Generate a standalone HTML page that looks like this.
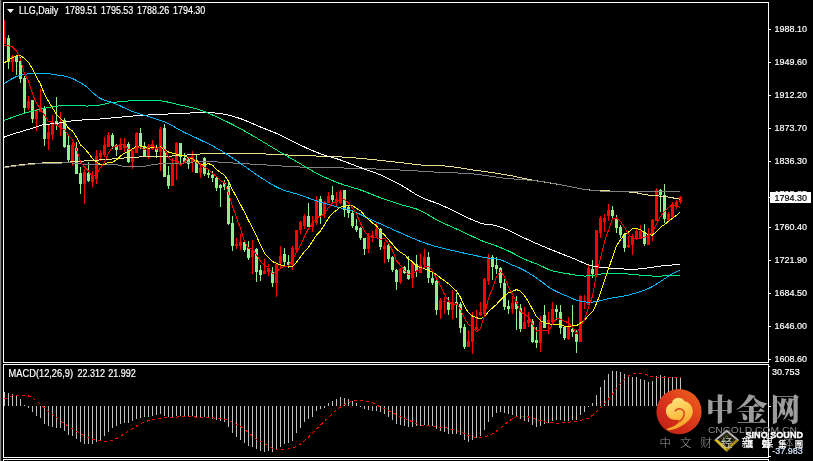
<!DOCTYPE html>
<html lang="zh"><head><meta charset="utf-8"><title>LLG,Daily</title>
<style>html,body{margin:0;padding:0;background:#000;overflow:hidden}svg{display:block}text{font-family:"Liberation Sans","Noto Sans CJK SC",sans-serif}.ax{font-size:9.5px;fill:#fff;stroke:#fff;stroke-width:0.2px;transform:translate(0,-0.4px)}.cj{font-family:"Liberation Serif","Noto Serif CJK SC",serif}</style></head><body>
<svg width="813" height="461" viewBox="0 0 813 461">
<defs><linearGradient id="cg" x1="0.85" y1="0.1" x2="0.15" y2="0.9"><stop offset="0" stop-color="#ea5a1c"/><stop offset="0.55" stop-color="#d8341a"/><stop offset="1" stop-color="#c32218"/></linearGradient><linearGradient id="yg" x1="0.3" y1="0" x2="0.6" y2="1"><stop offset="0" stop-color="#ffe27e"/><stop offset="0.6" stop-color="#fbbd3f"/><stop offset="1" stop-color="#f39a1f"/></linearGradient><clipPath id="mainclip"><rect x="4" y="3" width="764" height="359"/></clipPath></defs>
<rect width="813" height="461" fill="#000"/>
<rect x="0" y="0" width="1" height="461" fill="#808080"/><rect x="1" y="0" width="1" height="461" fill="#1c1c1c"/>
<g fill="none" stroke="#fff" stroke-width="1" shape-rendering="crispEdges">
<rect x="3.5" y="2.5" width="765" height="360"/>
<rect x="3.5" y="364.5" width="765" height="93"/>
<path d="M3.5 462V459.5H768.5V462"/>
</g>
<g clip-path="url(#mainclip)">
<g shape-rendering="crispEdges">
<rect x="4" y="20" width="1" height="24" fill="#ff0000"/><rect x="3" y="37" width="3" height="7" fill="#ff0000"/>
<rect x="8" y="35" width="1" height="34" fill="#90ee90"/><rect x="7" y="38" width="3" height="24" fill="#90ee90"/>
<rect x="12" y="55" width="1" height="17" fill="#ff0000"/><rect x="11" y="56" width="3" height="6" fill="#ff0000"/>
<rect x="16" y="56" width="1" height="19" fill="#90ee90"/><rect x="15" y="56" width="3" height="6" fill="#90ee90"/>
<rect x="20" y="57" width="1" height="26" fill="#90ee90"/><rect x="19" y="61" width="3" height="18" fill="#90ee90"/>
<rect x="24" y="76" width="1" height="37" fill="#90ee90"/><rect x="23" y="78" width="3" height="30" fill="#90ee90"/>
<rect x="28" y="96" width="1" height="14" fill="#ff0000"/><rect x="27" y="101" width="3" height="7" fill="#ff0000"/>
<rect x="32" y="100" width="1" height="23" fill="#90ee90"/><rect x="31" y="100" width="3" height="19" fill="#90ee90"/>
<rect x="36" y="109" width="1" height="22" fill="#ff0000"/><rect x="35" y="110" width="3" height="9" fill="#ff0000"/>
<rect x="40" y="89" width="1" height="23" fill="#ff0000"/><rect x="39" y="107" width="3" height="5" fill="#ff0000"/>
<rect x="44" y="106" width="1" height="40" fill="#90ee90"/><rect x="43" y="108" width="3" height="31" fill="#90ee90"/>
<rect x="48" y="124" width="1" height="26" fill="#ff0000"/><rect x="47" y="132" width="3" height="7" fill="#ff0000"/>
<rect x="52" y="115" width="1" height="25" fill="#ff0000"/><rect x="51" y="122" width="3" height="13" fill="#ff0000"/>
<rect x="56" y="97" width="1" height="33" fill="#90ee90"/><rect x="55" y="121" width="3" height="4" fill="#90ee90"/>
<rect x="60" y="112" width="1" height="24" fill="#ff0000"/><rect x="59" y="122" width="3" height="6" fill="#ff0000"/>
<rect x="64" y="118" width="1" height="30" fill="#90ee90"/><rect x="63" y="120" width="3" height="27" fill="#90ee90"/>
<rect x="68" y="136" width="1" height="26" fill="#90ee90"/><rect x="67" y="145" width="3" height="15" fill="#90ee90"/>
<rect x="72" y="142" width="1" height="24" fill="#ff0000"/><rect x="71" y="145" width="3" height="16" fill="#ff0000"/>
<rect x="76" y="142" width="1" height="32" fill="#90ee90"/><rect x="75" y="148" width="3" height="26" fill="#90ee90"/>
<rect x="80" y="167" width="1" height="27" fill="#90ee90"/><rect x="79" y="173" width="3" height="11" fill="#90ee90"/>
<rect x="84" y="169" width="1" height="35" fill="#ff0000"/><rect x="83" y="172" width="3" height="12" fill="#ff0000"/>
<rect x="88" y="162" width="1" height="20" fill="#90ee90"/><rect x="87" y="173" width="3" height="8" fill="#90ee90"/>
<rect x="92" y="171" width="1" height="16" fill="#ff0000"/><rect x="91" y="176" width="3" height="6" fill="#ff0000"/>
<rect x="96" y="150" width="1" height="34" fill="#ff0000"/><rect x="95" y="156" width="3" height="23" fill="#ff0000"/>
<rect x="100" y="150" width="1" height="11" fill="#ff0000"/><rect x="99" y="153" width="3" height="4" fill="#ff0000"/>
<rect x="104" y="137" width="1" height="20" fill="#ff0000"/><rect x="103" y="145" width="3" height="10" fill="#ff0000"/>
<rect x="108" y="132" width="1" height="15" fill="#ff0000"/><rect x="107" y="135" width="3" height="12" fill="#ff0000"/>
<rect x="112" y="133" width="1" height="16" fill="#90ee90"/><rect x="111" y="135" width="3" height="11" fill="#90ee90"/>
<rect x="116" y="144" width="1" height="12" fill="#90ee90"/><rect x="115" y="145" width="3" height="5" fill="#90ee90"/>
<rect x="120" y="138" width="1" height="12" fill="#ff0000"/><rect x="119" y="144" width="3" height="6" fill="#ff0000"/>
<rect x="124" y="138" width="1" height="14" fill="#ff0000"/><rect x="123" y="144" width="3" height="4" fill="#ff0000"/>
<rect x="128" y="142" width="1" height="21" fill="#90ee90"/><rect x="127" y="144" width="3" height="18" fill="#90ee90"/>
<rect x="132" y="150" width="1" height="19" fill="#ff0000"/><rect x="131" y="151" width="3" height="11" fill="#ff0000"/>
<rect x="136" y="132" width="1" height="21" fill="#ff0000"/><rect x="135" y="133" width="3" height="20" fill="#ff0000"/>
<rect x="140" y="128" width="1" height="21" fill="#90ee90"/><rect x="139" y="133" width="3" height="13" fill="#90ee90"/>
<rect x="144" y="142" width="1" height="15" fill="#90ee90"/><rect x="143" y="146" width="3" height="11" fill="#90ee90"/>
<rect x="148" y="144" width="1" height="15" fill="#ff0000"/><rect x="147" y="146" width="3" height="11" fill="#ff0000"/>
<rect x="152" y="140" width="1" height="10" fill="#ff0000"/><rect x="151" y="144" width="3" height="5" fill="#ff0000"/>
<rect x="156" y="145" width="1" height="13" fill="#90ee90"/><rect x="155" y="148" width="3" height="4" fill="#90ee90"/>
<rect x="160" y="127" width="1" height="44" fill="#ff0000"/><rect x="159" y="129" width="3" height="23" fill="#ff0000"/>
<rect x="164" y="124" width="1" height="53" fill="#90ee90"/><rect x="163" y="128" width="3" height="49" fill="#90ee90"/>
<rect x="168" y="166" width="1" height="23" fill="#90ee90"/><rect x="167" y="175" width="3" height="11" fill="#90ee90"/>
<rect x="172" y="158" width="1" height="28" fill="#ff0000"/><rect x="171" y="163" width="3" height="23" fill="#ff0000"/>
<rect x="176" y="142" width="1" height="38" fill="#ff0000"/><rect x="175" y="143" width="3" height="21" fill="#ff0000"/>
<rect x="180" y="143" width="1" height="21" fill="#90ee90"/><rect x="179" y="143" width="3" height="14" fill="#90ee90"/>
<rect x="184" y="153" width="1" height="9" fill="#90ee90"/><rect x="183" y="158" width="3" height="4" fill="#90ee90"/>
<rect x="188" y="157" width="1" height="12" fill="#90ee90"/><rect x="187" y="159" width="3" height="5" fill="#90ee90"/>
<rect x="192" y="151" width="1" height="21" fill="#ff0000"/><rect x="191" y="157" width="3" height="5" fill="#ff0000"/>
<rect x="196" y="154" width="1" height="19" fill="#90ee90"/><rect x="195" y="160" width="3" height="13" fill="#90ee90"/>
<rect x="200" y="163" width="1" height="15" fill="#ff0000"/><rect x="199" y="168" width="3" height="5" fill="#ff0000"/>
<rect x="204" y="157" width="1" height="19" fill="#90ee90"/><rect x="203" y="158" width="3" height="16" fill="#90ee90"/>
<rect x="208" y="169" width="1" height="9" fill="#90ee90"/><rect x="207" y="173" width="3" height="2" fill="#90ee90"/>
<rect x="212" y="171" width="1" height="11" fill="#90ee90"/><rect x="211" y="175" width="3" height="3" fill="#90ee90"/>
<rect x="216" y="176" width="1" height="15" fill="#90ee90"/><rect x="215" y="178" width="3" height="10" fill="#90ee90"/>
<rect x="220" y="184" width="1" height="23" fill="#90ee90"/><rect x="219" y="185" width="3" height="3" fill="#90ee90"/>
<rect x="224" y="180" width="1" height="10" fill="#90ee90"/><rect x="223" y="183" width="3" height="4" fill="#90ee90"/>
<rect x="228" y="182" width="1" height="43" fill="#90ee90"/><rect x="227" y="186" width="3" height="38" fill="#90ee90"/>
<rect x="232" y="216" width="1" height="35" fill="#90ee90"/><rect x="231" y="223" width="3" height="23" fill="#90ee90"/>
<rect x="236" y="238" width="1" height="11" fill="#ff0000"/><rect x="235" y="244" width="3" height="2" fill="#ff0000"/>
<rect x="240" y="234" width="1" height="16" fill="#ff0000"/><rect x="239" y="242" width="3" height="4" fill="#ff0000"/>
<rect x="244" y="242" width="1" height="10" fill="#90ee90"/><rect x="243" y="242" width="3" height="8" fill="#90ee90"/>
<rect x="248" y="241" width="1" height="19" fill="#90ee90"/><rect x="247" y="248" width="3" height="10" fill="#90ee90"/>
<rect x="252" y="240" width="1" height="34" fill="#ff0000"/><rect x="251" y="250" width="3" height="7" fill="#ff0000"/>
<rect x="256" y="248" width="1" height="34" fill="#90ee90"/><rect x="255" y="249" width="3" height="23" fill="#90ee90"/>
<rect x="260" y="265" width="1" height="16" fill="#90ee90"/><rect x="259" y="270" width="3" height="5" fill="#90ee90"/>
<rect x="264" y="259" width="1" height="15" fill="#ff0000"/><rect x="263" y="271" width="3" height="3" fill="#ff0000"/>
<rect x="268" y="264" width="1" height="12" fill="#ff0000"/><rect x="267" y="268" width="3" height="4" fill="#ff0000"/>
<rect x="272" y="267" width="1" height="20" fill="#90ee90"/><rect x="271" y="272" width="3" height="11" fill="#90ee90"/>
<rect x="276" y="264" width="1" height="33" fill="#ff0000"/><rect x="275" y="264" width="3" height="19" fill="#ff0000"/>
<rect x="280" y="246" width="1" height="22" fill="#ff0000"/><rect x="279" y="256" width="3" height="7" fill="#ff0000"/>
<rect x="284" y="248" width="1" height="17" fill="#90ee90"/><rect x="283" y="254" width="3" height="8" fill="#90ee90"/>
<rect x="288" y="255" width="1" height="13" fill="#90ee90"/><rect x="287" y="262" width="3" height="3" fill="#90ee90"/>
<rect x="292" y="246" width="1" height="24" fill="#ff0000"/><rect x="291" y="248" width="3" height="17" fill="#ff0000"/>
<rect x="296" y="230" width="1" height="21" fill="#ff0000"/><rect x="295" y="230" width="3" height="20" fill="#ff0000"/>
<rect x="300" y="221" width="1" height="13" fill="#ff0000"/><rect x="299" y="222" width="3" height="8" fill="#ff0000"/>
<rect x="304" y="214" width="1" height="15" fill="#ff0000"/><rect x="303" y="216" width="3" height="10" fill="#ff0000"/>
<rect x="308" y="203" width="1" height="24" fill="#90ee90"/><rect x="307" y="216" width="3" height="11" fill="#90ee90"/>
<rect x="312" y="216" width="1" height="16" fill="#ff0000"/><rect x="311" y="223" width="3" height="4" fill="#ff0000"/>
<rect x="316" y="196" width="1" height="29" fill="#ff0000"/><rect x="315" y="200" width="3" height="23" fill="#ff0000"/>
<rect x="320" y="196" width="1" height="28" fill="#90ee90"/><rect x="319" y="199" width="3" height="17" fill="#90ee90"/>
<rect x="324" y="201" width="1" height="17" fill="#ff0000"/><rect x="323" y="202" width="3" height="12" fill="#ff0000"/>
<rect x="328" y="192" width="1" height="11" fill="#ff0000"/><rect x="327" y="196" width="3" height="7" fill="#ff0000"/>
<rect x="332" y="186" width="1" height="16" fill="#90ee90"/><rect x="331" y="195" width="3" height="5" fill="#90ee90"/>
<rect x="336" y="192" width="1" height="15" fill="#ff0000"/><rect x="335" y="199" width="3" height="3" fill="#ff0000"/>
<rect x="340" y="190" width="1" height="14" fill="#ff0000"/><rect x="339" y="192" width="3" height="11" fill="#ff0000"/>
<rect x="344" y="190" width="1" height="27" fill="#90ee90"/><rect x="343" y="190" width="3" height="20" fill="#90ee90"/>
<rect x="348" y="206" width="1" height="12" fill="#90ee90"/><rect x="347" y="207" width="3" height="6" fill="#90ee90"/>
<rect x="352" y="211" width="1" height="17" fill="#90ee90"/><rect x="351" y="213" width="3" height="13" fill="#90ee90"/>
<rect x="356" y="219" width="1" height="13" fill="#90ee90"/><rect x="355" y="226" width="3" height="4" fill="#90ee90"/>
<rect x="360" y="227" width="1" height="13" fill="#90ee90"/><rect x="359" y="228" width="3" height="10" fill="#90ee90"/>
<rect x="364" y="238" width="1" height="17" fill="#90ee90"/><rect x="363" y="238" width="3" height="11" fill="#90ee90"/>
<rect x="368" y="233" width="1" height="20" fill="#ff0000"/><rect x="367" y="237" width="3" height="12" fill="#ff0000"/>
<rect x="372" y="231" width="1" height="11" fill="#ff0000"/><rect x="371" y="235" width="3" height="3" fill="#ff0000"/>
<rect x="376" y="223" width="1" height="15" fill="#ff0000"/><rect x="375" y="229" width="3" height="7" fill="#ff0000"/>
<rect x="380" y="228" width="1" height="22" fill="#90ee90"/><rect x="379" y="229" width="3" height="18" fill="#90ee90"/>
<rect x="384" y="242" width="1" height="21" fill="#ff0000"/><rect x="383" y="246" width="3" height="3" fill="#ff0000"/>
<rect x="388" y="244" width="1" height="18" fill="#90ee90"/><rect x="387" y="245" width="3" height="14" fill="#90ee90"/>
<rect x="392" y="256" width="1" height="16" fill="#90ee90"/><rect x="391" y="257" width="3" height="13" fill="#90ee90"/>
<rect x="396" y="269" width="1" height="21" fill="#90ee90"/><rect x="395" y="270" width="3" height="12" fill="#90ee90"/>
<rect x="400" y="268" width="1" height="16" fill="#ff0000"/><rect x="399" y="269" width="3" height="13" fill="#ff0000"/>
<rect x="404" y="266" width="1" height="8" fill="#90ee90"/><rect x="403" y="267" width="3" height="6" fill="#90ee90"/>
<rect x="408" y="256" width="1" height="24" fill="#90ee90"/><rect x="407" y="270" width="3" height="9" fill="#90ee90"/>
<rect x="412" y="262" width="1" height="26" fill="#ff0000"/><rect x="411" y="263" width="3" height="15" fill="#ff0000"/>
<rect x="416" y="255" width="1" height="22" fill="#90ee90"/><rect x="415" y="264" width="3" height="7" fill="#90ee90"/>
<rect x="420" y="254" width="1" height="19" fill="#ff0000"/><rect x="419" y="265" width="3" height="8" fill="#ff0000"/>
<rect x="424" y="249" width="1" height="19" fill="#ff0000"/><rect x="423" y="257" width="3" height="8" fill="#ff0000"/>
<rect x="428" y="252" width="1" height="31" fill="#90ee90"/><rect x="427" y="257" width="3" height="21" fill="#90ee90"/>
<rect x="432" y="273" width="1" height="12" fill="#90ee90"/><rect x="431" y="278" width="3" height="5" fill="#90ee90"/>
<rect x="436" y="280" width="1" height="35" fill="#90ee90"/><rect x="435" y="281" width="3" height="29" fill="#90ee90"/>
<rect x="440" y="298" width="1" height="21" fill="#ff0000"/><rect x="439" y="300" width="3" height="10" fill="#ff0000"/>
<rect x="444" y="297" width="1" height="17" fill="#ff0000"/><rect x="443" y="301" width="3" height="1" fill="#ff0000"/>
<rect x="448" y="297" width="1" height="18" fill="#90ee90"/><rect x="447" y="302" width="3" height="8" fill="#90ee90"/>
<rect x="452" y="290" width="1" height="29" fill="#ff0000"/><rect x="451" y="302" width="3" height="8" fill="#ff0000"/>
<rect x="456" y="293" width="1" height="25" fill="#90ee90"/><rect x="455" y="302" width="3" height="2" fill="#90ee90"/>
<rect x="460" y="302" width="1" height="31" fill="#90ee90"/><rect x="459" y="304" width="3" height="24" fill="#90ee90"/>
<rect x="464" y="324" width="1" height="25" fill="#90ee90"/><rect x="463" y="327" width="3" height="20" fill="#90ee90"/>
<rect x="468" y="330" width="1" height="17" fill="#ff0000"/><rect x="467" y="341" width="3" height="6" fill="#ff0000"/>
<rect x="472" y="312" width="1" height="42" fill="#ff0000"/><rect x="471" y="316" width="3" height="26" fill="#ff0000"/>
<rect x="476" y="310" width="1" height="20" fill="#ff0000"/><rect x="475" y="327" width="3" height="2" fill="#ff0000"/>
<rect x="480" y="302" width="1" height="14" fill="#ff0000"/><rect x="479" y="312" width="3" height="3" fill="#ff0000"/>
<rect x="484" y="278" width="1" height="36" fill="#ff0000"/><rect x="483" y="279" width="3" height="35" fill="#ff0000"/>
<rect x="488" y="254" width="1" height="31" fill="#ff0000"/><rect x="487" y="257" width="3" height="24" fill="#ff0000"/>
<rect x="492" y="255" width="1" height="25" fill="#90ee90"/><rect x="491" y="257" width="3" height="10" fill="#90ee90"/>
<rect x="496" y="257" width="1" height="17" fill="#90ee90"/><rect x="495" y="265" width="3" height="4" fill="#90ee90"/>
<rect x="500" y="267" width="1" height="21" fill="#90ee90"/><rect x="499" y="268" width="3" height="15" fill="#90ee90"/>
<rect x="504" y="279" width="1" height="31" fill="#90ee90"/><rect x="503" y="283" width="3" height="24" fill="#90ee90"/>
<rect x="508" y="300" width="1" height="14" fill="#90ee90"/><rect x="507" y="306" width="3" height="3" fill="#90ee90"/>
<rect x="512" y="296" width="1" height="18" fill="#ff0000"/><rect x="511" y="303" width="3" height="6" fill="#ff0000"/>
<rect x="516" y="296" width="1" height="34" fill="#90ee90"/><rect x="515" y="302" width="3" height="7" fill="#90ee90"/>
<rect x="520" y="304" width="1" height="28" fill="#90ee90"/><rect x="519" y="308" width="3" height="21" fill="#90ee90"/>
<rect x="524" y="307" width="1" height="22" fill="#ff0000"/><rect x="523" y="322" width="3" height="7" fill="#ff0000"/>
<rect x="528" y="312" width="1" height="15" fill="#ff0000"/><rect x="527" y="320" width="3" height="3" fill="#ff0000"/>
<rect x="532" y="319" width="1" height="24" fill="#90ee90"/><rect x="531" y="321" width="3" height="21" fill="#90ee90"/>
<rect x="536" y="327" width="1" height="21" fill="#90ee90"/><rect x="535" y="340" width="3" height="3" fill="#90ee90"/>
<rect x="540" y="316" width="1" height="36" fill="#ff0000"/><rect x="539" y="322" width="3" height="21" fill="#ff0000"/>
<rect x="544" y="305" width="1" height="23" fill="#90ee90"/><rect x="543" y="315" width="3" height="13" fill="#90ee90"/>
<rect x="548" y="312" width="1" height="22" fill="#ff0000"/><rect x="547" y="320" width="3" height="4" fill="#ff0000"/>
<rect x="552" y="302" width="1" height="21" fill="#ff0000"/><rect x="551" y="309" width="3" height="13" fill="#ff0000"/>
<rect x="556" y="305" width="1" height="15" fill="#90ee90"/><rect x="555" y="309" width="3" height="3" fill="#90ee90"/>
<rect x="560" y="305" width="1" height="29" fill="#90ee90"/><rect x="559" y="312" width="3" height="16" fill="#90ee90"/>
<rect x="564" y="326" width="1" height="14" fill="#90ee90"/><rect x="563" y="327" width="3" height="11" fill="#90ee90"/>
<rect x="568" y="317" width="1" height="23" fill="#ff0000"/><rect x="567" y="327" width="3" height="12" fill="#ff0000"/>
<rect x="572" y="305" width="1" height="32" fill="#90ee90"/><rect x="571" y="329" width="3" height="3" fill="#90ee90"/>
<rect x="576" y="330" width="1" height="23" fill="#90ee90"/><rect x="575" y="334" width="3" height="8" fill="#90ee90"/>
<rect x="580" y="295" width="1" height="47" fill="#ff0000"/><rect x="579" y="296" width="3" height="46" fill="#ff0000"/>
<rect x="584" y="295" width="1" height="14" fill="#ff0000"/><rect x="583" y="301" width="3" height="1" fill="#ff0000"/>
<rect x="588" y="265" width="1" height="40" fill="#ff0000"/><rect x="587" y="268" width="3" height="37" fill="#ff0000"/>
<rect x="592" y="260" width="1" height="18" fill="#90ee90"/><rect x="591" y="269" width="3" height="5" fill="#90ee90"/>
<rect x="596" y="230" width="1" height="46" fill="#ff0000"/><rect x="595" y="230" width="3" height="44" fill="#ff0000"/>
<rect x="600" y="216" width="1" height="22" fill="#ff0000"/><rect x="599" y="218" width="3" height="15" fill="#ff0000"/>
<rect x="604" y="214" width="1" height="18" fill="#ff0000"/><rect x="603" y="218" width="3" height="4" fill="#ff0000"/>
<rect x="608" y="204" width="1" height="17" fill="#ff0000"/><rect x="607" y="210" width="3" height="6" fill="#ff0000"/>
<rect x="612" y="206" width="1" height="13" fill="#90ee90"/><rect x="611" y="210" width="3" height="6" fill="#90ee90"/>
<rect x="616" y="215" width="1" height="18" fill="#90ee90"/><rect x="615" y="219" width="3" height="9" fill="#90ee90"/>
<rect x="620" y="225" width="1" height="13" fill="#90ee90"/><rect x="619" y="227" width="3" height="8" fill="#90ee90"/>
<rect x="624" y="233" width="1" height="19" fill="#90ee90"/><rect x="623" y="234" width="3" height="14" fill="#90ee90"/>
<rect x="628" y="236" width="1" height="12" fill="#ff0000"/><rect x="627" y="245" width="3" height="2" fill="#ff0000"/>
<rect x="632" y="234" width="1" height="21" fill="#ff0000"/><rect x="631" y="236" width="3" height="9" fill="#ff0000"/>
<rect x="636" y="228" width="1" height="12" fill="#ff0000"/><rect x="635" y="231" width="3" height="7" fill="#ff0000"/>
<rect x="640" y="225" width="1" height="14" fill="#ff0000"/><rect x="639" y="231" width="3" height="7" fill="#ff0000"/>
<rect x="644" y="224" width="1" height="22" fill="#90ee90"/><rect x="643" y="232" width="3" height="12" fill="#90ee90"/>
<rect x="648" y="228" width="1" height="17" fill="#ff0000"/><rect x="647" y="234" width="3" height="11" fill="#ff0000"/>
<rect x="652" y="219" width="1" height="22" fill="#ff0000"/><rect x="651" y="220" width="3" height="15" fill="#ff0000"/>
<rect x="656" y="188" width="1" height="33" fill="#ff0000"/><rect x="655" y="190" width="3" height="31" fill="#ff0000"/>
<rect x="660" y="189" width="1" height="23" fill="#90ee90"/><rect x="659" y="190" width="3" height="5" fill="#90ee90"/>
<rect x="664" y="184" width="1" height="39" fill="#90ee90"/><rect x="663" y="195" width="3" height="24" fill="#90ee90"/>
<rect x="668" y="212" width="1" height="9" fill="#ff0000"/><rect x="667" y="214" width="3" height="6" fill="#ff0000"/>
<rect x="672" y="202" width="1" height="17" fill="#ff0000"/><rect x="671" y="204" width="3" height="13" fill="#ff0000"/>
<rect x="676" y="200" width="1" height="9" fill="#ff0000"/><rect x="675" y="202" width="3" height="4" fill="#ff0000"/>
<rect x="680" y="196" width="1" height="8" fill="#ff0000"/><rect x="679" y="197" width="3" height="5" fill="#ff0000"/>
</g>
<polyline points="4.0,167.2 6.0,166.9 8.0,166.5 10.0,166.2 12.0,165.9 14.0,165.6 16.0,165.4 18.0,165.1 20.0,164.9 22.0,164.7 24.0,164.5 26.0,164.2 28.0,164.0 30.0,163.8 32.0,163.7 34.0,163.5 36.0,163.3 38.0,163.2 40.0,163.1 42.0,163.0 44.0,162.9 46.0,162.9 48.0,162.8 50.0,162.8 52.0,162.7 54.0,162.7 56.0,162.7 58.0,162.6 60.0,162.5 62.0,162.4 64.0,162.3 66.0,162.2 68.0,162.1 70.0,162.0 72.0,161.8 74.0,161.7 76.0,161.6 78.0,161.5 80.0,161.3 82.0,161.2 84.0,161.0 86.0,160.9 88.0,160.8 90.0,160.6 92.0,160.5 94.0,160.4 96.0,160.2 98.0,160.1 100.0,159.9 102.0,159.8 104.0,159.6 106.0,159.5 108.0,159.3 110.0,159.2 112.0,159.0 114.0,158.8 116.0,158.7 118.0,158.5 120.0,158.3 122.0,158.2 124.0,158.0 126.0,157.9 128.0,157.7 130.0,157.6 132.0,157.4 134.0,157.3 136.0,157.2 138.0,157.1 140.0,156.9 142.0,156.9 144.0,156.8 146.0,156.7 148.0,156.6 150.0,156.6 152.0,156.5 154.0,156.5 156.0,156.4 158.0,156.4 160.0,156.3 162.0,156.3 164.0,156.2 166.0,156.2 168.0,156.1 170.0,156.1 172.0,156.0 174.0,155.9 176.0,155.8 178.0,155.7 180.0,155.6 182.0,155.4 184.0,155.3 186.0,155.1 188.0,154.9 190.0,154.7 192.0,154.6 194.0,154.4 196.0,154.2 198.0,154.1 200.0,154.0 202.0,153.9 204.0,153.8 206.0,153.8 208.0,153.7 210.0,153.7 212.0,153.7 214.0,153.6 216.0,153.6 218.0,153.6 220.0,153.6 222.0,153.6 224.0,153.6 226.0,153.6 228.0,153.6 230.0,153.6 232.0,153.6 234.0,153.6 236.0,153.6 238.0,153.6 240.0,153.6 242.0,153.6 244.0,153.6 246.0,153.6 248.0,153.7 250.0,153.7 252.0,153.7 254.0,153.7 256.0,153.7 258.0,153.8 260.0,153.8 262.0,153.9 264.0,153.9 266.0,154.0 268.0,154.0 270.0,154.1 272.0,154.2 274.0,154.3 276.0,154.4 278.0,154.5 280.0,154.6 282.0,154.7 284.0,154.8 286.0,154.9 288.0,155.0 290.0,155.1 292.0,155.2 294.0,155.3 296.0,155.4 298.0,155.5 300.0,155.6 302.0,155.7 304.0,155.7 306.0,155.8 308.0,155.8 310.0,155.9 312.0,155.9 314.0,155.9 316.0,156.0 318.0,156.0 320.0,156.0 322.0,156.1 324.0,156.1 326.0,156.2 328.0,156.3 330.0,156.3 332.0,156.4 334.0,156.5 336.0,156.6 338.0,156.7 340.0,156.8 342.0,157.0 344.0,157.1 346.0,157.2 348.0,157.4 350.0,157.5 352.0,157.7 354.0,157.9 356.0,158.0 358.0,158.2 360.0,158.4 362.0,158.5 364.0,158.7 366.0,158.9 368.0,159.1 370.0,159.3 372.0,159.5 374.0,159.7 376.0,159.9 378.0,160.1 380.0,160.3 382.0,160.5 384.0,160.8 386.0,161.0 388.0,161.2 390.0,161.4 392.0,161.7 394.0,161.9 396.0,162.1 398.0,162.3 400.0,162.5 402.0,162.7 404.0,163.0 406.0,163.2 408.0,163.5 410.0,163.7 412.0,164.0 414.0,164.2 416.0,164.5 418.0,164.7 420.0,164.9 422.0,165.2 424.0,165.4 426.0,165.5 428.0,165.7 430.0,165.8 432.0,165.9 434.0,166.0 436.0,165.9 438.0,165.8 440.0,165.7 442.0,165.8 444.0,165.9 446.0,166.1 448.0,166.3 450.0,166.5 452.0,166.8 454.0,167.0 456.0,167.3 458.0,167.6 460.0,167.9 462.0,168.2 464.0,168.6 466.0,168.9 468.0,169.2 470.0,169.5 472.0,169.8 474.0,170.1 476.0,170.3 478.0,170.6 480.0,170.9 482.0,171.2 484.0,171.5 486.0,171.7 488.0,172.0 490.0,172.3 492.0,172.6 494.0,172.9 496.0,173.2 498.0,173.5 500.0,173.8 502.0,174.2 504.0,174.5 506.0,174.8 508.0,175.2 510.0,175.5 512.0,175.9 514.0,176.3 516.0,176.7 518.0,177.2 520.0,177.6 522.0,178.0 524.0,178.4 526.0,178.8 528.0,179.2 530.0,179.6 532.0,180.0 534.0,180.3 536.0,180.7 538.0,181.0 540.0,181.3 542.0,181.7 544.0,182.0 546.0,182.3 548.0,182.7 550.0,183.0 552.0,183.3 554.0,183.6 556.0,184.0 558.0,184.3 560.0,184.6 562.0,185.0 564.0,185.4 566.0,185.8 568.0,186.2 570.0,186.6 572.0,187.1 574.0,187.5 576.0,187.9 578.0,188.3 580.0,188.7 582.0,189.0 584.0,189.3 586.0,189.6 588.0,189.8 590.0,190.0 592.0,190.2 594.0,190.4 596.0,190.5 598.0,190.6 600.0,190.7 602.0,190.8 604.0,190.8 606.0,190.9 608.0,190.9 610.0,191.0 612.0,191.1 614.0,191.2 616.0,191.3 618.0,191.4 620.0,191.5 622.0,191.6 624.0,191.7 626.0,191.8 628.0,191.9 630.0,192.1 632.0,192.2 634.0,192.5 636.0,192.7 638.0,193.1 640.0,193.6 642.0,194.0 644.0,194.4 646.0,194.8 648.0,195.0 650.0,195.3 652.0,195.4 654.0,195.6 656.0,195.8 658.0,195.9 660.0,196.1 662.0,196.3 664.0,196.5 666.0,196.7 668.0,197.0 670.0,197.4 672.0,197.7 674.0,198.1 676.0,198.5 678.0,198.9 680.0,199.3" fill="none" stroke="#ecdf90" stroke-width="1" stroke-linejoin="round" shape-rendering="crispEdges" />
<polyline points="4.0,167.8 6.0,167.5 8.0,167.1 10.0,166.8 12.0,166.5 14.0,166.2 16.0,166.0 18.0,165.7 20.0,165.5 22.0,165.3 24.0,165.1 26.0,164.8 28.0,164.6 30.0,164.4 32.0,164.3 34.0,164.1 36.0,163.9 38.0,163.8 40.0,163.7 42.0,163.6 44.0,163.5 46.0,163.4 48.0,163.3 50.0,163.2 52.0,163.2 54.0,163.1 56.0,163.1 58.0,163.0 60.0,163.0 62.0,163.0 64.0,162.9 66.0,162.9 68.0,162.9 70.0,162.9 72.0,163.0 74.0,163.0 76.0,163.1 78.0,163.3 80.0,163.6 82.0,164.0 84.0,164.4 86.0,164.6 88.0,164.7 90.0,164.8 92.0,164.8 94.0,164.8 96.0,164.8 98.0,164.7 100.0,164.7 102.0,164.6 104.0,164.5 106.0,164.5 108.0,164.5 110.0,164.5 112.0,164.5 114.0,164.6 116.0,164.8 118.0,165.0 120.0,165.4 122.0,166.0 124.0,166.4 126.0,166.6 128.0,166.7 130.0,166.8 132.0,166.9 134.0,166.8 136.0,166.8 138.0,166.7 140.0,166.6 142.0,166.5 144.0,166.3 146.0,166.0 148.0,165.7 150.0,165.3 152.0,164.9 154.0,164.5 156.0,164.2 158.0,164.0 160.0,163.8 162.0,163.8 164.0,163.7 166.0,163.7 168.0,163.7 170.0,163.7 172.0,163.7 174.0,163.6 176.0,163.6 178.0,163.5 180.0,163.4 182.0,163.2 184.0,163.0 186.0,162.8 188.0,162.5 190.0,162.3 192.0,162.1 194.0,161.9 196.0,161.7 198.0,161.6 200.0,161.5 202.0,161.5 204.0,161.5 206.0,161.5 208.0,161.5 210.0,161.6 212.0,161.7 214.0,161.8 216.0,161.9 218.0,162.0 220.0,162.2 222.0,162.3 224.0,162.4 226.0,162.6 228.0,162.7 230.0,162.8 232.0,162.9 234.0,163.1 236.0,163.2 238.0,163.3 240.0,163.4 242.0,163.5 244.0,163.6 246.0,163.7 248.0,163.8 250.0,164.0 252.0,164.1 254.0,164.2 256.0,164.3 258.0,164.5 260.0,164.6 262.0,164.7 264.0,164.8 266.0,164.9 268.0,165.1 270.0,165.2 272.0,165.3 274.0,165.4 276.0,165.6 278.0,165.7 280.0,165.8 282.0,166.0 284.0,166.1 286.0,166.2 288.0,166.4 290.0,166.5 292.0,166.6 294.0,166.7 296.0,166.8 298.0,166.9 300.0,167.0 302.0,167.1 304.0,167.1 306.0,167.2 308.0,167.3 310.0,167.3 312.0,167.3 314.0,167.4 316.0,167.4 318.0,167.4 320.0,167.5 322.0,167.5 324.0,167.5 326.0,167.5 328.0,167.6 330.0,167.6 332.0,167.7 334.0,167.7 336.0,167.8 338.0,167.8 340.0,167.9 342.0,167.9 344.0,168.0 346.0,168.0 348.0,168.1 350.0,168.1 352.0,168.2 354.0,168.3 356.0,168.3 358.0,168.4 360.0,168.5 362.0,168.5 364.0,168.6 366.0,168.7 368.0,168.7 370.0,168.8 372.0,168.9 374.0,168.9 376.0,169.0 378.0,169.1 380.0,169.1 382.0,169.2 384.0,169.3 386.0,169.4 388.0,169.4 390.0,169.5 392.0,169.6 394.0,169.7 396.0,169.8 398.0,169.9 400.0,170.0 402.0,170.1 404.0,170.2 406.0,170.3 408.0,170.4 410.0,170.5 412.0,170.6 414.0,170.8 416.0,170.9 418.0,171.0 420.0,171.1 422.0,171.3 424.0,171.4 426.0,171.5 428.0,171.6 430.0,171.8 432.0,171.9 434.0,172.0 436.0,172.1 438.0,172.2 440.0,172.3 442.0,172.4 444.0,172.5 446.0,172.5 448.0,172.6 450.0,172.7 452.0,172.8 454.0,172.8 456.0,172.9 458.0,173.0 460.0,173.1 462.0,173.2 464.0,173.3 466.0,173.4 468.0,173.6 470.0,173.7 472.0,173.9 474.0,174.0 476.0,174.2 478.0,174.5 480.0,174.7 482.0,175.0 484.0,175.2 486.0,175.5 488.0,175.8 490.0,176.1 492.0,176.4 494.0,176.7 496.0,177.0 498.0,177.3 500.0,177.5 502.0,177.8 504.0,178.1 506.0,178.3 508.0,178.5 510.0,178.7 512.0,178.9 514.0,179.0 516.0,179.2 518.0,179.3 520.0,179.5 522.0,179.6 524.0,179.8 526.0,179.9 528.0,180.1 530.0,180.3 532.0,180.5 534.0,180.7 536.0,180.9 538.0,181.1 540.0,181.4 542.0,181.6 544.0,181.9 546.0,182.2 548.0,182.6 550.0,182.9 552.0,183.2 554.0,183.6 556.0,183.9 558.0,184.3 560.0,184.6 562.0,185.0 564.0,185.4 566.0,185.8 568.0,186.2 570.0,186.6 572.0,187.0 574.0,187.5 576.0,187.9 578.0,188.3 580.0,188.7 582.0,189.0 584.0,189.4 586.0,189.7 588.0,189.9 590.0,190.2 592.0,190.4 594.0,190.6 596.0,190.8 598.0,190.9 600.0,191.0 602.0,191.1 604.0,191.1 606.0,191.2 608.0,191.2 610.0,191.2 612.0,191.2 614.0,191.2 616.0,191.2 618.0,191.2 620.0,191.2 622.0,191.2 624.0,191.1 626.0,191.1 628.0,191.1 630.0,191.1 632.0,191.0 634.0,191.0 636.0,191.0 638.0,191.0 640.0,191.0 642.0,191.0 644.0,191.0 646.0,191.0 648.0,191.0 650.0,191.0 652.0,191.0 654.0,191.0 656.0,191.0 658.0,191.0 660.0,191.0 662.0,191.0 664.0,191.0 666.0,191.0 668.0,191.0 670.0,191.0 672.0,191.0 674.0,191.0 676.0,191.0 678.0,191.0 680.0,191.0" fill="none" stroke="#808080" stroke-width="1" stroke-linejoin="round" shape-rendering="crispEdges" />
<polyline points="4.0,137.2 6.0,136.5 8.0,135.7 10.0,135.0 12.0,134.3 14.0,133.7 16.0,133.1 18.0,132.5 20.0,131.9 22.0,131.3 24.0,130.7 26.0,130.1 28.0,129.5 30.0,128.9 32.0,128.3 34.0,127.7 36.0,127.1 38.0,126.5 40.0,125.8 42.0,125.1 44.0,124.7 46.0,124.4 48.0,124.2 50.0,124.0 52.0,123.9 54.0,123.7 56.0,123.4 58.0,123.2 60.0,122.8 62.0,122.5 64.0,122.2 66.0,121.9 68.0,121.5 70.0,121.2 72.0,120.9 74.0,120.6 76.0,120.4 78.0,120.3 80.0,120.1 82.0,120.0 84.0,119.9 86.0,119.8 88.0,119.7 90.0,119.6 92.0,119.5 94.0,119.4 96.0,119.3 98.0,119.1 100.0,119.0 102.0,118.8 104.0,118.7 106.0,118.5 108.0,118.3 110.0,118.1 112.0,117.9 114.0,117.7 116.0,117.5 118.0,117.4 120.0,117.2 122.0,117.0 124.0,116.8 126.0,116.6 128.0,116.4 130.0,116.2 132.0,116.1 134.0,115.9 136.0,115.8 138.0,115.6 140.0,115.5 142.0,115.4 144.0,115.2 146.0,115.1 148.0,115.0 150.0,114.9 152.0,114.8 154.0,114.7 156.0,114.6 158.0,114.4 160.0,114.3 162.0,114.2 164.0,114.1 166.0,114.0 168.0,114.0 170.0,113.9 172.0,113.8 174.0,113.7 176.0,113.6 178.0,113.5 180.0,113.4 182.0,113.3 184.0,113.2 186.0,113.1 188.0,113.0 190.0,113.0 192.0,112.9 194.0,112.9 196.0,112.8 198.0,112.8 200.0,112.8 202.0,112.8 204.0,112.8 206.0,112.8 208.0,112.8 210.0,112.8 212.0,112.8 214.0,112.9 216.0,113.1 218.0,113.2 220.0,113.5 222.0,113.8 224.0,114.2 226.0,114.6 228.0,115.0 230.0,115.5 232.0,116.1 234.0,116.6 236.0,117.2 238.0,117.8 240.0,118.5 242.0,119.2 244.0,120.0 246.0,120.8 248.0,121.6 250.0,122.4 252.0,123.3 254.0,124.2 256.0,125.1 258.0,126.0 260.0,126.8 262.0,127.6 264.0,128.4 266.0,129.2 268.0,130.0 270.0,130.8 272.0,131.6 274.0,132.4 276.0,133.2 278.0,134.1 280.0,135.0 282.0,135.9 284.0,136.9 286.0,137.9 288.0,138.9 290.0,140.0 292.0,141.0 294.0,142.0 296.0,143.1 298.0,144.0 300.0,145.0 302.0,145.9 304.0,146.8 306.0,147.8 308.0,148.7 310.0,149.5 312.0,150.4 314.0,151.2 316.0,152.1 318.0,152.8 320.0,153.6 322.0,154.3 324.0,155.0 326.0,155.6 328.0,156.2 330.0,156.8 332.0,157.4 334.0,157.9 336.0,158.5 338.0,159.2 340.0,159.8 342.0,160.5 344.0,161.3 346.0,162.0 348.0,162.8 350.0,163.6 352.0,164.4 354.0,165.1 356.0,165.9 358.0,166.7 360.0,167.5 362.0,168.2 364.0,168.9 366.0,169.6 368.0,170.3 370.0,171.0 372.0,171.7 374.0,172.4 376.0,173.1 378.0,173.9 380.0,174.7 382.0,175.6 384.0,176.5 386.0,177.4 388.0,178.4 390.0,179.4 392.0,180.4 394.0,181.4 396.0,182.5 398.0,183.5 400.0,184.6 402.0,185.7 404.0,186.9 406.0,188.1 408.0,189.4 410.0,190.7 412.0,191.9 414.0,193.2 416.0,194.4 418.0,195.5 420.0,196.6 422.0,197.6 424.0,198.5 426.0,199.3 428.0,200.0 430.0,200.8 432.0,201.5 434.0,202.2 436.0,202.9 438.0,203.7 440.0,204.5 442.0,205.4 444.0,206.3 446.0,207.2 448.0,208.1 450.0,209.0 452.0,210.0 454.0,211.0 456.0,212.0 458.0,213.0 460.0,214.0 462.0,215.0 464.0,216.0 466.0,217.0 468.0,217.9 470.0,218.8 472.0,219.7 474.0,220.5 476.0,221.4 478.0,222.1 480.0,222.9 482.0,223.5 484.0,224.1 486.0,224.4 488.0,224.6 490.0,224.8 492.0,224.9 494.0,225.2 496.0,225.6 498.0,226.2 500.0,226.9 502.0,227.6 504.0,228.4 506.0,229.3 508.0,230.1 510.0,231.0 512.0,231.9 514.0,232.9 516.0,233.9 518.0,234.9 520.0,235.9 522.0,236.9 524.0,237.9 526.0,238.8 528.0,239.7 530.0,240.6 532.0,241.5 534.0,242.4 536.0,243.3 538.0,244.1 540.0,245.0 542.0,245.9 544.0,246.7 546.0,247.5 548.0,248.3 550.0,249.2 552.0,250.0 554.0,250.8 556.0,251.6 558.0,252.4 560.0,253.2 562.0,254.0 564.0,254.8 566.0,255.6 568.0,256.3 570.0,257.1 572.0,257.9 574.0,258.7 576.0,259.5 578.0,260.4 580.0,261.3 582.0,262.2 584.0,263.1 586.0,263.9 588.0,264.6 590.0,265.3 592.0,265.8 594.0,266.2 596.0,266.6 598.0,266.9 600.0,267.1 602.0,267.3 604.0,267.5 606.0,267.7 608.0,267.9 610.0,268.1 612.0,268.3 614.0,268.5 616.0,268.6 618.0,268.7 620.0,268.8 622.0,268.9 624.0,269.0 626.0,269.1 628.0,269.1 630.0,269.1 632.0,269.1 634.0,269.1 636.0,269.0 638.0,269.0 640.0,268.9 642.0,268.7 644.0,268.5 646.0,268.2 648.0,267.9 650.0,267.6 652.0,267.3 654.0,267.0 656.0,266.7 658.0,266.4 660.0,266.1 662.0,265.9 664.0,265.7 666.0,265.5 668.0,265.3 670.0,265.2 672.0,265.0 674.0,264.9 676.0,264.7 678.0,264.6 680.0,264.4" fill="none" stroke="#ffffff" stroke-width="1" stroke-linejoin="round" shape-rendering="crispEdges" />
<polyline points="4.0,120.4 6.0,119.7 8.0,118.9 10.0,118.2 12.0,117.4 14.0,116.7 16.0,116.0 18.0,115.4 20.0,114.7 22.0,114.0 24.0,113.4 26.0,112.8 28.0,112.3 30.0,111.7 32.0,111.2 34.0,110.7 36.0,110.2 38.0,109.8 40.0,109.3 42.0,108.9 44.0,108.4 46.0,108.0 48.0,107.7 50.0,107.3 52.0,106.9 54.0,106.6 56.0,106.3 58.0,106.0 60.0,105.8 62.0,105.6 64.0,105.4 66.0,105.3 68.0,105.2 70.0,105.2 72.0,105.2 74.0,105.2 76.0,105.3 78.0,105.4 80.0,105.6 82.0,105.8 84.0,105.9 86.0,106.0 88.0,106.0 90.0,105.9 92.0,105.8 94.0,105.7 96.0,105.5 98.0,105.3 100.0,105.0 102.0,104.6 104.0,104.2 106.0,103.7 108.0,103.3 110.0,102.9 112.0,102.6 114.0,102.3 116.0,102.1 118.0,101.9 120.0,101.6 122.0,101.5 124.0,101.3 126.0,101.1 128.0,101.0 130.0,100.9 132.0,100.7 134.0,100.7 136.0,100.6 138.0,100.5 140.0,100.4 142.0,100.3 144.0,100.2 146.0,100.2 148.0,100.2 150.0,100.2 152.0,100.2 154.0,100.3 156.0,100.4 158.0,100.5 160.0,100.7 162.0,101.0 164.0,101.3 166.0,101.7 168.0,102.1 170.0,102.5 172.0,103.0 174.0,103.5 176.0,104.0 178.0,104.5 180.0,105.0 182.0,105.5 184.0,105.9 186.0,106.3 188.0,106.8 190.0,107.2 192.0,107.7 194.0,108.2 196.0,108.8 198.0,109.4 200.0,110.0 202.0,110.7 204.0,111.5 206.0,112.2 208.0,113.1 210.0,113.9 212.0,114.8 214.0,115.7 216.0,116.6 218.0,117.6 220.0,118.5 222.0,119.4 224.0,120.4 226.0,121.3 228.0,122.3 230.0,123.3 232.0,124.3 234.0,125.3 236.0,126.4 238.0,127.4 240.0,128.5 242.0,129.6 244.0,130.7 246.0,131.8 248.0,133.0 250.0,134.1 252.0,135.3 254.0,136.5 256.0,137.6 258.0,138.8 260.0,140.0 262.0,141.2 264.0,142.4 266.0,143.6 268.0,144.8 270.0,146.0 272.0,147.2 274.0,148.4 276.0,149.6 278.0,150.8 280.0,152.0 282.0,153.2 284.0,154.3 286.0,155.5 288.0,156.7 290.0,157.8 292.0,159.0 294.0,160.1 296.0,161.3 298.0,162.4 300.0,163.6 302.0,164.8 304.0,165.9 306.0,167.1 308.0,168.3 310.0,169.5 312.0,170.7 314.0,171.8 316.0,172.9 318.0,174.0 320.0,175.0 322.0,176.0 324.0,176.9 326.0,177.8 328.0,178.7 330.0,179.6 332.0,180.4 334.0,181.2 336.0,182.0 338.0,182.8 340.0,183.5 342.0,184.2 344.0,184.9 346.0,185.5 348.0,186.1 350.0,186.7 352.0,187.3 354.0,187.9 356.0,188.5 358.0,189.1 360.0,189.8 362.0,190.5 364.0,191.2 366.0,192.0 368.0,192.8 370.0,193.6 372.0,194.4 374.0,195.2 376.0,196.0 378.0,196.8 380.0,197.5 382.0,198.3 384.0,199.0 386.0,199.7 388.0,200.4 390.0,201.0 392.0,201.7 394.0,202.3 396.0,203.0 398.0,203.6 400.0,204.3 402.0,204.9 404.0,205.5 406.0,206.0 408.0,206.5 410.0,207.0 412.0,207.6 414.0,208.2 416.0,208.8 418.0,209.6 420.0,210.4 422.0,211.4 424.0,212.5 426.0,213.6 428.0,214.7 430.0,215.9 432.0,217.1 434.0,218.3 436.0,219.4 438.0,220.5 440.0,221.5 442.0,222.5 444.0,223.4 446.0,224.3 448.0,225.2 450.0,226.1 452.0,227.0 454.0,227.9 456.0,228.8 458.0,229.7 460.0,230.6 462.0,231.6 464.0,232.5 466.0,233.4 468.0,234.4 470.0,235.3 472.0,236.3 474.0,237.2 476.0,238.1 478.0,239.0 480.0,239.9 482.0,240.8 484.0,241.6 486.0,242.3 488.0,243.1 490.0,243.7 492.0,244.4 494.0,245.1 496.0,245.8 498.0,246.6 500.0,247.4 502.0,248.2 504.0,249.0 506.0,249.9 508.0,250.8 510.0,251.7 512.0,252.7 514.0,253.7 516.0,254.8 518.0,255.9 520.0,256.9 522.0,257.9 524.0,258.9 526.0,259.8 528.0,260.6 530.0,261.4 532.0,262.2 534.0,263.0 536.0,263.7 538.0,264.6 540.0,265.4 542.0,266.3 544.0,267.3 546.0,268.3 548.0,269.2 550.0,270.0 552.0,270.6 554.0,271.2 556.0,271.6 558.0,272.1 560.0,272.4 562.0,272.8 564.0,273.1 566.0,273.4 568.0,273.7 570.0,274.1 572.0,274.4 574.0,274.8 576.0,275.1 578.0,275.4 580.0,275.7 582.0,275.9 584.0,276.0 586.0,276.0 588.0,275.9 590.0,275.7 592.0,275.4 594.0,275.1 596.0,274.8 598.0,274.4 600.0,274.1 602.0,273.8 604.0,273.5 606.0,273.2 608.0,273.0 610.0,273.0 612.0,273.0 614.0,273.0 616.0,273.1 618.0,273.2 620.0,273.3 622.0,273.5 624.0,273.6 626.0,273.8 628.0,274.0 630.0,274.1 632.0,274.3 634.0,274.5 636.0,274.7 638.0,274.9 640.0,275.1 642.0,275.3 644.0,275.5 646.0,275.6 648.0,275.8 650.0,275.9 652.0,276.0 654.0,276.0 656.0,276.1 658.0,276.1 660.0,276.0 662.0,276.0 664.0,275.9 666.0,275.8 668.0,275.8 670.0,275.7 672.0,275.6 674.0,275.5 676.0,275.4 678.0,275.4 680.0,275.3" fill="none" stroke="#00f07a" stroke-width="1" stroke-linejoin="round" shape-rendering="crispEdges" />
<polyline points="4.0,83.5 6.0,82.3 8.0,81.1 10.0,79.8 12.0,78.7 14.0,77.7 16.0,76.7 18.0,75.9 20.0,75.2 22.0,74.8 24.0,74.4 26.0,74.1 28.0,73.8 30.0,73.5 32.0,73.3 34.0,73.1 36.0,73.0 38.0,73.0 40.0,73.0 42.0,73.1 44.0,73.2 46.0,73.3 48.0,73.5 50.0,73.8 52.0,74.2 54.0,74.5 56.0,74.9 58.0,75.2 60.0,75.5 62.0,75.7 64.0,76.0 66.0,76.4 68.0,77.0 70.0,77.7 72.0,78.4 74.0,79.2 76.0,80.2 78.0,81.4 80.0,82.6 82.0,83.7 84.0,84.9 86.0,86.4 88.0,88.1 90.0,90.0 92.0,91.8 94.0,93.7 96.0,95.4 98.0,96.9 100.0,98.3 102.0,99.3 104.0,100.1 106.0,100.7 108.0,101.2 110.0,101.8 112.0,102.5 114.0,103.3 116.0,104.1 118.0,104.9 120.0,105.8 122.0,106.7 124.0,107.7 126.0,108.6 128.0,109.6 130.0,110.5 132.0,111.3 134.0,112.1 136.0,112.8 138.0,113.4 140.0,114.0 142.0,114.6 144.0,115.2 146.0,115.8 148.0,116.4 150.0,117.0 152.0,117.7 154.0,118.3 156.0,118.9 158.0,119.6 160.0,120.3 162.0,121.0 164.0,121.7 166.0,122.6 168.0,123.5 170.0,124.5 172.0,125.5 174.0,126.7 176.0,127.8 178.0,129.0 180.0,130.1 182.0,131.2 184.0,132.2 186.0,133.2 188.0,134.1 190.0,135.0 192.0,136.0 194.0,136.9 196.0,137.8 198.0,138.7 200.0,139.7 202.0,140.7 204.0,141.7 206.0,142.6 208.0,143.6 210.0,144.6 212.0,145.6 214.0,146.7 216.0,147.8 218.0,148.9 220.0,150.0 222.0,151.2 224.0,152.4 226.0,153.7 228.0,155.0 230.0,156.3 232.0,157.6 234.0,158.9 236.0,160.3 238.0,161.6 240.0,163.0 242.0,164.4 244.0,165.8 246.0,167.2 248.0,168.6 250.0,170.1 252.0,171.5 254.0,172.9 256.0,174.3 258.0,175.7 260.0,177.0 262.0,178.3 264.0,179.6 266.0,180.8 268.0,182.1 270.0,183.3 272.0,184.5 274.0,185.7 276.0,186.7 278.0,187.8 280.0,188.7 282.0,189.5 284.0,190.3 286.0,191.0 288.0,191.6 290.0,192.1 292.0,192.7 294.0,193.2 296.0,193.8 298.0,194.4 300.0,195.0 302.0,195.7 304.0,196.4 306.0,197.1 308.0,197.8 310.0,198.5 312.0,199.3 314.0,200.0 316.0,200.7 318.0,201.4 320.0,202.0 322.0,202.6 324.0,203.2 326.0,203.8 328.0,204.4 330.0,205.0 332.0,205.5 334.0,206.1 336.0,206.6 338.0,207.2 340.0,207.7 342.0,208.2 344.0,208.6 346.0,208.9 348.0,209.4 350.0,210.0 352.0,210.7 354.0,211.5 356.0,212.4 358.0,213.3 360.0,214.3 362.0,215.3 364.0,216.3 366.0,217.3 368.0,218.2 370.0,219.1 372.0,220.0 374.0,220.9 376.0,221.9 378.0,222.8 380.0,223.7 382.0,224.6 384.0,225.5 386.0,226.4 388.0,227.3 390.0,228.1 392.0,229.1 394.0,230.0 396.0,230.9 398.0,231.8 400.0,232.7 402.0,233.6 404.0,234.4 406.0,235.3 408.0,236.2 410.0,237.0 412.0,237.9 414.0,238.7 416.0,239.6 418.0,240.4 420.0,241.2 422.0,242.0 424.0,242.7 426.0,243.5 428.0,244.2 430.0,244.8 432.0,245.4 434.0,246.0 436.0,246.5 438.0,247.0 440.0,247.5 442.0,248.0 444.0,248.4 446.0,248.9 448.0,249.4 450.0,249.9 452.0,250.4 454.0,250.8 456.0,251.3 458.0,251.8 460.0,252.2 462.0,252.7 464.0,253.1 466.0,253.6 468.0,254.0 470.0,254.4 472.0,254.9 474.0,255.3 476.0,255.7 478.0,256.1 480.0,256.6 482.0,257.0 484.0,257.3 486.0,257.7 488.0,258.0 490.0,258.3 492.0,258.5 494.0,258.6 496.0,258.8 498.0,259.1 500.0,259.6 502.0,260.3 504.0,261.2 506.0,262.1 508.0,263.1 510.0,264.0 512.0,264.9 514.0,265.7 516.0,266.5 518.0,267.3 520.0,268.2 522.0,269.2 524.0,270.2 526.0,271.3 528.0,272.5 530.0,273.8 532.0,275.1 534.0,276.4 536.0,277.7 538.0,279.1 540.0,280.5 542.0,282.0 544.0,283.5 546.0,285.1 548.0,286.7 550.0,288.0 552.0,289.2 554.0,290.3 556.0,291.3 558.0,292.2 560.0,293.1 562.0,294.0 564.0,294.9 566.0,295.7 568.0,296.6 570.0,297.5 572.0,298.4 574.0,299.2 576.0,300.0 578.0,300.6 580.0,301.1 582.0,301.5 584.0,301.8 586.0,302.0 588.0,302.1 590.0,302.1 592.0,302.1 594.0,301.9 596.0,301.6 598.0,301.2 600.0,300.8 602.0,300.2 604.0,299.7 606.0,299.2 608.0,298.7 610.0,298.3 612.0,298.0 614.0,297.6 616.0,297.3 618.0,297.0 620.0,296.7 622.0,296.4 624.0,296.0 626.0,295.6 628.0,295.2 630.0,294.7 632.0,294.1 634.0,293.6 636.0,293.0 638.0,292.4 640.0,291.8 642.0,291.1 644.0,290.4 646.0,289.6 648.0,288.7 650.0,287.7 652.0,286.7 654.0,285.5 656.0,284.3 658.0,283.0 660.0,281.8 662.0,280.5 664.0,279.2 666.0,277.8 668.0,276.5 670.0,275.2 672.0,274.0 674.0,272.9 676.0,271.9 678.0,271.0 680.0,270.0" fill="none" stroke="#00b8f8" stroke-width="1" stroke-linejoin="round" shape-rendering="crispEdges" />
<polyline points="4.5,62.6 8.5,60.0 12.5,57.7 16.5,55.6 20.5,55.6 24.5,58.5 28.5,62.5 32.5,69.0 36.5,77.0 40.5,84.2 44.5,94.3 48.5,101.4 52.5,108.0 56.5,114.2 60.5,118.5 64.5,122.4 68.5,128.3 72.5,130.9 76.5,137.3 80.5,145.0 84.5,148.3 88.5,153.2 92.5,158.6 96.5,161.7 100.5,164.8 104.5,164.7 108.5,162.1 112.5,162.2 116.5,159.9 120.5,155.9 124.5,153.2 128.5,151.3 132.5,148.8 136.5,146.4 140.5,145.8 144.5,146.9 148.5,148.1 152.5,147.8 156.5,147.9 160.5,146.4 164.5,149.6 168.5,152.0 172.5,153.2 176.5,154.2 180.5,155.3 184.5,155.8 188.5,157.5 192.5,158.9 196.5,161.0 200.5,164.9 204.5,164.6 208.5,163.6 212.5,165.1 216.5,169.5 220.5,172.6 224.5,175.1 228.5,181.1 232.5,189.9 236.5,197.1 240.5,204.6 244.5,212.2 248.5,220.5 252.5,227.8 256.5,236.2 260.5,244.9 264.5,253.4 268.5,257.7 272.5,261.5 276.5,263.4 280.5,264.8 284.5,265.9 288.5,266.6 292.5,266.4 296.5,262.2 300.5,256.9 304.5,251.4 308.5,247.3 312.5,241.3 316.5,234.9 320.5,230.9 324.5,224.9 328.5,218.1 332.5,213.2 336.5,210.2 340.5,207.1 344.5,206.5 348.5,205.1 352.5,205.4 356.5,208.4 360.5,210.7 364.5,215.4 368.5,219.4 372.5,222.9 376.5,225.8 380.5,231.4 384.5,235.0 388.5,239.7 392.5,244.1 396.5,249.3 400.5,252.3 404.5,254.7 408.5,258.9 412.5,261.8 416.5,266.0 420.5,267.7 424.5,268.8 428.5,270.7 432.5,271.9 436.5,274.8 440.5,277.9 444.5,280.7 448.5,283.8 452.5,287.8 456.5,291.1 460.5,297.4 464.5,306.4 468.5,312.7 472.5,316.0 476.5,317.7 480.5,318.9 484.5,316.7 488.5,311.4 492.5,307.9 496.5,304.3 500.5,299.8 504.5,295.9 508.5,292.7 512.5,291.4 516.5,289.6 520.5,291.3 524.5,295.6 528.5,301.9 532.5,309.4 536.5,316.7 540.5,320.6 544.5,322.7 548.5,323.7 552.5,324.4 556.5,324.6 560.5,324.4 564.5,326.1 568.5,326.8 572.5,325.8 576.5,325.7 580.5,323.1 584.5,320.4 588.5,315.3 592.5,311.7 596.5,303.6 600.5,292.6 604.5,280.6 608.5,268.9 612.5,257.3 616.5,245.9 620.5,239.8 624.5,234.6 628.5,232.2 632.5,228.4 636.5,228.5 640.5,229.8 644.5,232.4 648.5,234.8 652.5,235.2 656.5,231.3 660.5,227.3 664.5,224.5 668.5,221.3 672.5,218.2 676.5,215.2 680.5,211.8" fill="none" stroke="#ffff00" stroke-width="1" stroke-linejoin="round" shape-rendering="crispEdges" />
<polyline points="4.5,45.3 8.5,45.8 12.5,47.0 16.5,51.0 20.5,59.3 24.5,73.5 28.5,81.3 32.5,93.8 36.5,103.4 40.5,109.0 44.5,115.2 48.5,121.5 52.5,122.1 56.5,125.1 60.5,128.0 64.5,129.6 68.5,135.1 72.5,139.8 76.5,149.6 80.5,162.0 84.5,167.0 88.5,171.2 92.5,177.4 96.5,173.8 100.5,167.6 104.5,162.3 108.5,153.0 112.5,147.1 116.5,146.0 120.5,144.2 124.5,144.0 128.5,149.5 132.5,150.4 136.5,146.9 140.5,147.3 144.5,149.8 148.5,146.7 152.5,145.2 156.5,149.0 160.5,145.5 164.5,149.5 168.5,157.3 172.5,161.2 176.5,159.5 180.5,165.2 184.5,162.1 188.5,157.7 192.5,156.5 196.5,162.5 200.5,164.7 204.5,167.2 208.5,169.4 212.5,173.6 216.5,176.6 220.5,180.5 224.5,183.0 228.5,192.8 232.5,206.3 236.5,217.6 240.5,228.6 244.5,241.4 248.5,248.2 252.5,249.2 256.5,254.7 260.5,261.2 264.5,265.3 268.5,267.2 272.5,273.8 276.5,272.1 280.5,268.3 284.5,266.5 288.5,266.0 292.5,259.1 296.5,252.3 300.5,245.5 304.5,236.3 308.5,228.7 312.5,223.6 316.5,217.6 320.5,216.4 324.5,213.6 328.5,207.5 332.5,202.9 336.5,202.8 340.5,197.9 344.5,199.5 348.5,202.8 352.5,208.0 356.5,214.0 360.5,223.4 364.5,231.3 368.5,236.0 372.5,237.8 376.5,237.6 380.5,239.3 384.5,238.7 388.5,243.3 392.5,250.3 396.5,261.0 400.5,265.3 404.5,270.6 408.5,274.6 412.5,273.2 416.5,271.0 420.5,270.1 424.5,266.9 428.5,266.7 432.5,270.7 436.5,278.5 440.5,285.7 444.5,294.5 448.5,300.9 452.5,304.8 456.5,303.7 460.5,309.2 464.5,318.3 468.5,324.5 472.5,327.2 476.5,331.7 480.5,328.5 484.5,315.1 488.5,298.3 492.5,288.5 496.5,276.9 500.5,271.0 504.5,276.6 508.5,287.1 512.5,294.3 516.5,302.4 520.5,311.6 524.5,314.5 528.5,316.6 532.5,324.4 536.5,331.1 540.5,329.6 544.5,330.9 548.5,330.9 552.5,324.4 556.5,318.1 560.5,319.3 564.5,321.3 568.5,322.7 572.5,327.2 576.5,333.3 580.5,327.0 584.5,319.5 588.5,307.8 592.5,296.2 596.5,273.8 600.5,258.2 604.5,241.7 608.5,230.1 612.5,218.5 616.5,218.0 620.5,221.4 624.5,227.4 628.5,234.4 632.5,238.4 636.5,239.0 640.5,238.2 644.5,237.5 648.5,235.1 652.5,231.9 656.5,223.7 660.5,216.4 664.5,211.5 668.5,207.5 672.5,204.5 676.5,206.8 680.5,207.2" fill="none" stroke="#ff0000" stroke-width="1" stroke-linejoin="round" shape-rendering="crispEdges" />
</g>
<g shape-rendering="crispEdges" fill="#c0c0c0">
<rect x="4" y="392" width="1" height="14"/>
<rect x="8" y="393" width="1" height="13"/>
<rect x="12" y="394" width="1" height="12"/>
<rect x="16" y="395" width="1" height="11"/>
<rect x="20" y="399" width="1" height="7"/>
<rect x="24" y="405" width="1" height="1"/>
<rect x="28" y="406" width="1" height="2"/>
<rect x="32" y="406" width="1" height="6"/>
<rect x="36" y="406" width="1" height="10"/>
<rect x="40" y="406" width="1" height="12"/>
<rect x="44" y="406" width="1" height="18"/>
<rect x="48" y="406" width="1" height="20"/>
<rect x="52" y="406" width="1" height="21"/>
<rect x="56" y="406" width="1" height="22"/>
<rect x="60" y="406" width="1" height="22"/>
<rect x="64" y="406" width="1" height="25"/>
<rect x="68" y="406" width="1" height="29"/>
<rect x="72" y="406" width="1" height="30"/>
<rect x="76" y="406" width="1" height="33"/>
<rect x="80" y="406" width="1" height="36"/>
<rect x="84" y="406" width="1" height="38"/>
<rect x="88" y="406" width="1" height="38"/>
<rect x="92" y="406" width="1" height="38"/>
<rect x="96" y="406" width="1" height="36"/>
<rect x="100" y="406" width="1" height="34"/>
<rect x="104" y="406" width="1" height="30"/>
<rect x="108" y="406" width="1" height="26"/>
<rect x="112" y="406" width="1" height="22"/>
<rect x="116" y="406" width="1" height="20"/>
<rect x="120" y="406" width="1" height="18"/>
<rect x="124" y="406" width="1" height="17"/>
<rect x="128" y="406" width="1" height="17"/>
<rect x="132" y="406" width="1" height="15"/>
<rect x="136" y="406" width="1" height="13"/>
<rect x="140" y="406" width="1" height="12"/>
<rect x="144" y="406" width="1" height="11"/>
<rect x="148" y="406" width="1" height="11"/>
<rect x="152" y="406" width="1" height="10"/>
<rect x="156" y="406" width="1" height="9"/>
<rect x="160" y="406" width="1" height="8"/>
<rect x="164" y="406" width="1" height="10"/>
<rect x="168" y="406" width="1" height="11"/>
<rect x="172" y="406" width="1" height="11"/>
<rect x="176" y="406" width="1" height="10"/>
<rect x="180" y="406" width="1" height="10"/>
<rect x="184" y="406" width="1" height="10"/>
<rect x="188" y="406" width="1" height="10"/>
<rect x="192" y="406" width="1" height="10"/>
<rect x="196" y="406" width="1" height="11"/>
<rect x="200" y="406" width="1" height="11"/>
<rect x="204" y="406" width="1" height="11"/>
<rect x="208" y="406" width="1" height="12"/>
<rect x="212" y="406" width="1" height="13"/>
<rect x="216" y="406" width="1" height="14"/>
<rect x="220" y="406" width="1" height="15"/>
<rect x="224" y="406" width="1" height="16"/>
<rect x="228" y="406" width="1" height="21"/>
<rect x="232" y="406" width="1" height="27"/>
<rect x="236" y="406" width="1" height="31"/>
<rect x="240" y="406" width="1" height="34"/>
<rect x="244" y="406" width="1" height="37"/>
<rect x="248" y="406" width="1" height="40"/>
<rect x="252" y="406" width="1" height="41"/>
<rect x="256" y="406" width="1" height="43"/>
<rect x="260" y="406" width="1" height="45"/>
<rect x="264" y="406" width="1" height="46"/>
<rect x="268" y="406" width="1" height="45"/>
<rect x="272" y="406" width="1" height="46"/>
<rect x="276" y="406" width="1" height="44"/>
<rect x="280" y="406" width="1" height="41"/>
<rect x="284" y="406" width="1" height="38"/>
<rect x="288" y="406" width="1" height="37"/>
<rect x="292" y="406" width="1" height="35"/>
<rect x="296" y="406" width="1" height="27"/>
<rect x="300" y="406" width="1" height="22"/>
<rect x="304" y="406" width="1" height="16"/>
<rect x="308" y="406" width="1" height="13"/>
<rect x="312" y="406" width="1" height="11"/>
<rect x="316" y="406" width="1" height="5"/>
<rect x="320" y="406" width="1" height="3"/>
<rect x="324" y="406" width="1" height="2"/>
<rect x="328" y="403" width="1" height="3"/>
<rect x="332" y="401" width="1" height="5"/>
<rect x="336" y="399" width="1" height="7"/>
<rect x="340" y="397" width="1" height="9"/>
<rect x="344" y="398" width="1" height="8"/>
<rect x="348" y="399" width="1" height="7"/>
<rect x="352" y="401" width="1" height="5"/>
<rect x="356" y="403" width="1" height="3"/>
<rect x="360" y="406" width="1" height="1"/>
<rect x="364" y="406" width="1" height="3"/>
<rect x="368" y="406" width="1" height="4"/>
<rect x="372" y="406" width="1" height="5"/>
<rect x="376" y="406" width="1" height="5"/>
<rect x="380" y="406" width="1" height="6"/>
<rect x="384" y="406" width="1" height="8"/>
<rect x="388" y="406" width="1" height="11"/>
<rect x="392" y="406" width="1" height="14"/>
<rect x="396" y="406" width="1" height="18"/>
<rect x="400" y="406" width="1" height="19"/>
<rect x="404" y="406" width="1" height="20"/>
<rect x="408" y="406" width="1" height="21"/>
<rect x="412" y="406" width="1" height="21"/>
<rect x="416" y="406" width="1" height="20"/>
<rect x="420" y="406" width="1" height="20"/>
<rect x="424" y="406" width="1" height="19"/>
<rect x="428" y="406" width="1" height="20"/>
<rect x="432" y="406" width="1" height="20"/>
<rect x="436" y="406" width="1" height="23"/>
<rect x="440" y="406" width="1" height="25"/>
<rect x="444" y="406" width="1" height="26"/>
<rect x="448" y="406" width="1" height="28"/>
<rect x="452" y="406" width="1" height="28"/>
<rect x="456" y="406" width="1" height="28"/>
<rect x="460" y="406" width="1" height="29"/>
<rect x="464" y="406" width="1" height="34"/>
<rect x="468" y="406" width="1" height="36"/>
<rect x="472" y="406" width="1" height="34"/>
<rect x="476" y="406" width="1" height="32"/>
<rect x="480" y="406" width="1" height="30"/>
<rect x="484" y="406" width="1" height="24"/>
<rect x="488" y="406" width="1" height="16"/>
<rect x="492" y="406" width="1" height="11"/>
<rect x="496" y="406" width="1" height="7"/>
<rect x="500" y="406" width="1" height="6"/>
<rect x="504" y="406" width="1" height="7"/>
<rect x="508" y="406" width="1" height="8"/>
<rect x="512" y="406" width="1" height="9"/>
<rect x="516" y="406" width="1" height="10"/>
<rect x="520" y="406" width="1" height="13"/>
<rect x="524" y="406" width="1" height="15"/>
<rect x="528" y="406" width="1" height="16"/>
<rect x="532" y="406" width="1" height="19"/>
<rect x="536" y="406" width="1" height="21"/>
<rect x="540" y="406" width="1" height="20"/>
<rect x="544" y="406" width="1" height="18"/>
<rect x="548" y="406" width="1" height="17"/>
<rect x="552" y="406" width="1" height="15"/>
<rect x="556" y="406" width="1" height="14"/>
<rect x="560" y="406" width="1" height="14"/>
<rect x="564" y="406" width="1" height="15"/>
<rect x="568" y="406" width="1" height="15"/>
<rect x="572" y="406" width="1" height="14"/>
<rect x="576" y="406" width="1" height="14"/>
<rect x="580" y="406" width="1" height="9"/>
<rect x="584" y="406" width="1" height="6"/>
<rect x="588" y="406" width="1" height="1"/>
<rect x="592" y="403" width="1" height="3"/>
<rect x="596" y="395" width="1" height="11"/>
<rect x="600" y="387" width="1" height="19"/>
<rect x="604" y="380" width="1" height="26"/>
<rect x="608" y="374" width="1" height="32"/>
<rect x="612" y="371" width="1" height="35"/>
<rect x="616" y="371" width="1" height="35"/>
<rect x="620" y="372" width="1" height="34"/>
<rect x="624" y="374" width="1" height="32"/>
<rect x="628" y="376" width="1" height="30"/>
<rect x="632" y="377" width="1" height="29"/>
<rect x="636" y="377" width="1" height="29"/>
<rect x="640" y="379" width="1" height="27"/>
<rect x="644" y="380" width="1" height="26"/>
<rect x="648" y="382" width="1" height="24"/>
<rect x="652" y="381" width="1" height="25"/>
<rect x="656" y="376" width="1" height="30"/>
<rect x="660" y="375" width="1" height="31"/>
<rect x="664" y="376" width="1" height="30"/>
<rect x="668" y="377" width="1" height="29"/>
<rect x="672" y="377" width="1" height="29"/>
<rect x="676" y="377" width="1" height="29"/>
<rect x="680" y="377" width="1" height="29"/>
</g>
<polyline points="4.4,399.0 6.4,398.2 8.4,397.3 10.4,396.5 12.4,395.9 14.4,395.5 16.4,395.2 18.4,395.0 20.4,395.0 22.4,395.0 24.4,395.2 26.4,395.5 28.4,396.0 30.4,396.8 32.4,398.0 34.4,399.4 36.4,400.9 38.4,402.5 40.4,404.3 42.4,406.1 44.4,407.8 46.4,409.5 48.4,411.1 50.4,412.6 52.4,414.3 54.4,416.0 56.4,417.7 58.4,419.3 60.4,420.8 62.4,422.3 64.4,423.6 66.4,425.0 68.4,426.3 70.4,427.6 72.4,428.8 74.4,430.1 76.4,431.2 78.4,432.4 80.4,433.5 82.4,434.6 84.4,435.7 86.4,436.8 88.4,437.7 90.4,438.5 92.4,439.1 94.4,439.6 96.4,440.1 98.4,440.5 100.4,440.8 102.4,441.0 104.4,441.1 106.4,441.1 108.4,441.0 110.4,440.8 112.4,440.2 114.4,439.5 116.4,438.6 118.4,437.6 120.4,436.4 122.4,435.1 124.4,433.7 126.4,432.4 128.4,431.2 130.4,429.9 132.4,428.6 134.4,427.4 136.4,426.1 138.4,424.9 140.4,423.8 142.4,422.9 144.4,422.1 146.4,421.4 148.4,420.7 150.4,420.1 152.4,419.6 154.4,419.1 156.4,418.7 158.4,418.4 160.4,418.2 162.4,418.0 164.4,417.8 166.4,417.7 168.4,417.6 170.4,417.5 172.4,417.4 174.4,417.2 176.4,417.1 178.4,416.9 180.4,416.8 182.4,416.7 184.4,416.6 186.4,416.6 188.4,416.6 190.4,416.7 192.4,416.8 194.4,416.9 196.4,417.1 198.4,417.2 200.4,417.3 202.4,417.4 204.4,417.5 206.4,417.6 208.4,417.6 210.4,417.7 212.4,417.8 214.4,418.0 216.4,418.2 218.4,418.3 220.4,418.5 222.4,418.8 224.4,419.1 226.4,419.6 228.4,420.3 230.4,421.2 232.4,422.2 234.4,423.2 236.4,424.1 238.4,425.1 240.4,426.2 242.4,427.5 244.4,429.1 246.4,430.8 248.4,432.5 250.4,434.2 252.4,435.9 254.4,437.6 256.4,439.1 258.4,440.2 260.4,441.2 262.4,442.2 264.4,443.4 266.4,444.7 268.4,446.1 270.4,447.3 272.4,448.2 274.4,448.7 276.4,449.1 278.4,449.3 280.4,449.4 282.4,449.5 284.4,449.4 286.4,449.2 288.4,448.9 290.4,448.5 292.4,448.0 294.4,447.3 296.4,446.4 298.4,445.4 300.4,444.0 302.4,442.3 304.4,440.5 306.4,438.8 308.4,437.1 310.4,435.3 312.4,433.4 314.4,431.4 316.4,429.3 318.4,427.1 320.4,425.1 322.4,423.1 324.4,421.2 326.4,419.3 328.4,417.4 330.4,415.4 332.4,413.4 334.4,411.5 336.4,409.9 338.4,408.4 340.4,407.1 342.4,405.9 344.4,404.7 346.4,403.5 348.4,402.5 350.4,401.8 352.4,401.2 354.4,400.9 356.4,400.6 358.4,400.5 360.4,400.5 362.4,400.6 364.4,400.9 366.4,401.2 368.4,401.5 370.4,402.1 372.4,402.8 374.4,403.7 376.4,404.9 378.4,406.0 380.4,407.0 382.4,407.9 384.4,408.8 386.4,409.7 388.4,410.7 390.4,411.6 392.4,412.5 394.4,413.5 396.4,414.5 398.4,415.6 400.4,416.6 402.4,417.6 404.4,418.4 406.4,419.2 408.4,420.0 410.4,420.9 412.4,421.9 414.4,422.8 416.4,423.8 418.4,424.5 420.4,425.0 422.4,425.4 424.4,425.6 426.4,425.8 428.4,425.9 430.4,426.2 432.4,426.3 434.4,426.5 436.4,426.7 438.4,426.9 440.4,427.2 442.4,427.4 444.4,427.6 446.4,427.9 448.4,428.3 450.4,428.7 452.4,429.3 454.4,429.9 456.4,430.5 458.4,431.3 460.4,432.0 462.4,432.8 464.4,433.6 466.4,434.5 468.4,435.4 470.4,436.1 472.4,436.7 474.4,437.1 476.4,437.4 478.4,437.5 480.4,437.4 482.4,437.2 484.4,436.9 486.4,436.3 488.4,435.6 490.4,434.7 492.4,433.6 494.4,432.4 496.4,431.1 498.4,429.6 500.4,428.1 502.4,426.5 504.4,424.7 506.4,423.0 508.4,421.5 510.4,420.1 512.4,418.7 514.4,417.7 516.4,416.9 518.4,416.4 520.4,416.1 522.4,416.0 524.4,416.1 526.4,416.5 528.4,417.0 530.4,417.5 532.4,418.1 534.4,418.8 536.4,419.5 538.4,420.1 540.4,420.7 542.4,421.2 544.4,421.7 546.4,422.1 548.4,422.4 550.4,422.7 552.4,422.8 554.4,422.9 556.4,423.0 558.4,423.0 560.4,423.0 562.4,422.9 564.4,422.8 566.4,422.6 568.4,422.2 570.4,421.9 572.4,421.5 574.4,421.3 576.4,421.1 578.4,420.8 580.4,420.4 582.4,420.0 584.4,419.5 586.4,418.9 588.4,418.1 590.4,417.0 592.4,415.4 594.4,413.5 596.4,411.6 598.4,409.6 600.4,407.6 602.4,405.5 604.4,403.4 606.4,401.2 608.4,399.0 610.4,396.7 612.4,394.2 614.4,391.6 616.4,388.8 618.4,386.1 620.4,383.7 622.4,381.4 624.4,379.3 626.4,377.5 628.4,376.1 630.4,375.0 632.4,374.3 634.4,373.7 636.4,373.3 638.4,373.2 640.4,373.2 642.4,373.5 644.4,374.1 646.4,374.8 648.4,375.4 650.4,376.0 652.4,376.5 654.4,377.0 656.4,377.3 658.4,377.5 660.4,377.6 662.4,377.6 664.4,377.5 666.4,377.5 668.4,377.5 670.4,377.5 672.4,377.5 674.4,377.5 676.4,377.5 678.4,377.5 680.4,377.5 680.7,377.5" fill="none" stroke="#ff0000" stroke-width="1" stroke-linejoin="round" shape-rendering="crispEdges" stroke-dasharray="3 3"/>
<g shape-rendering="crispEdges" fill="#fff">
<rect x="769" y="29" width="2" height="1"/>
<rect x="769" y="62" width="2" height="1"/>
<rect x="769" y="95" width="2" height="1"/>
<rect x="769" y="128" width="2" height="1"/>
<rect x="769" y="161" width="2" height="1"/>
<rect x="769" y="227" width="2" height="1"/>
<rect x="769" y="260" width="2" height="1"/>
<rect x="769" y="293" width="2" height="1"/>
<rect x="769" y="326" width="2" height="1"/>
<rect x="769" y="359" width="2" height="1"/>
<rect x="769" y="197" width="2" height="1"/>
<rect x="769" y="366" width="1" height="1"/><rect x="769" y="456" width="2" height="1"/><rect x="769" y="406" width="2" height="1"/>
</g>
<text class="ax" x="774.5" y="32.9" textLength="32.4" lengthAdjust="spacingAndGlyphs">1988.10</text>
<text class="ax" x="774.5" y="65.9" textLength="32.4" lengthAdjust="spacingAndGlyphs">1949.60</text>
<text class="ax" x="774.5" y="98.9" textLength="32.4" lengthAdjust="spacingAndGlyphs">1912.20</text>
<text class="ax" x="774.5" y="131.9" textLength="32.4" lengthAdjust="spacingAndGlyphs">1873.70</text>
<text class="ax" x="774.5" y="164.9" textLength="32.4" lengthAdjust="spacingAndGlyphs">1836.30</text>
<text class="ax" x="774.5" y="230.9" textLength="32.4" lengthAdjust="spacingAndGlyphs">1760.40</text>
<text class="ax" x="774.5" y="263.9" textLength="32.4" lengthAdjust="spacingAndGlyphs">1721.90</text>
<text class="ax" x="774.5" y="296.9" textLength="32.4" lengthAdjust="spacingAndGlyphs">1684.50</text>
<text class="ax" x="774.5" y="329.9" textLength="32.4" lengthAdjust="spacingAndGlyphs">1646.00</text>
<text class="ax" x="774.5" y="362.9" textLength="32.4" lengthAdjust="spacingAndGlyphs">1608.60</text>
<text class="ax" x="774.5" y="197.8" textLength="32.4" lengthAdjust="spacingAndGlyphs">1798.85</text>
<rect x="770" y="192" width="41" height="11" fill="#fff" shape-rendering="crispEdges"/>
<text class="ax" x="774.5" y="201.2" style="fill:#000;stroke:#000" textLength="32.4" lengthAdjust="spacingAndGlyphs">1794.30</text>
<text class="ax" x="772" y="375" textLength="27.7" lengthAdjust="spacingAndGlyphs">30.753</text>
<path d="M7 9h7l-3.5 4z" fill="#fff"/>
<text class="ax" style="font-size:10.2px" x="18.9" y="14.2" textLength="39.4" lengthAdjust="spacingAndGlyphs">LLG,Daily</text>
<text class="ax" style="font-size:10.2px" x="65" y="14.2" textLength="32.3" lengthAdjust="spacingAndGlyphs">1789.51</text>
<text class="ax" style="font-size:10.2px" x="101" y="14.2" textLength="32.3" lengthAdjust="spacingAndGlyphs">1795.53</text>
<text class="ax" style="font-size:10.2px" x="137" y="14.2" textLength="32.3" lengthAdjust="spacingAndGlyphs">1788.26</text>
<text class="ax" style="font-size:10.2px" x="173" y="14.2" textLength="32.3" lengthAdjust="spacingAndGlyphs">1794.30</text>
<text class="ax" style="font-size:10.2px" x="8.6" y="377.2" textLength="64.4" lengthAdjust="spacingAndGlyphs">MACD(12,26,9)</text>
<text class="ax" style="font-size:10.2px" x="77.5" y="377.2" textLength="27.6" lengthAdjust="spacingAndGlyphs">22.312</text>
<text class="ax" style="font-size:10.2px" x="108.2" y="377.2" textLength="27.6" lengthAdjust="spacingAndGlyphs">21.992</text>
<g>
<circle cx="679" cy="411.6" r="22.6" fill="url(#cg)"/>
<path d="M665.9 411.0C665.9 409.8 666.2 408.0 666.8 406.9C667.4 405.8 668.4 404.8 669.3 404.2C670.2 403.6 671.4 403.8 672.0 403.1C672.6 402.4 672.2 401.0 672.9 400.2C673.6 399.4 675.1 398.6 676.3 398.2C677.5 397.8 679.1 397.7 680.3 397.9C681.5 398.1 682.6 398.9 683.3 399.5C684.0 400.1 684.0 400.9 684.7 401.3C685.4 401.8 686.6 401.5 687.7 402.2C688.8 402.9 690.3 404.2 691.1 405.6C691.9 407.0 692.5 408.9 692.7 410.3C692.9 411.8 692.8 413.0 692.4 414.3C692.0 415.6 691.4 417.0 690.4 418.4C689.4 419.8 688.0 421.1 686.4 422.4C684.8 423.7 682.9 425.1 681.0 426.2C679.1 427.3 676.8 428.4 674.9 429.1C673.0 429.8 670.9 430.1 669.5 430.2C668.1 430.3 666.7 430.1 666.6 429.8C666.5 429.5 667.7 428.7 668.9 428.1C670.1 427.5 672.1 427.0 673.6 426.2C675.1 425.4 676.5 424.4 677.6 423.5C678.7 422.6 680.1 421.4 680.0 420.8C679.9 420.2 678.1 420.2 676.9 420.0C675.7 419.8 674.2 419.9 672.9 419.5C671.6 419.1 669.9 418.3 668.9 417.4C667.9 416.5 667.1 415.4 666.6 414.3C666.1 413.2 665.9 412.2 665.9 411.0Z" fill="url(#yg)"/>
<path d="M675.3 410.9 C676.3 409 679.2 408.2 681.4 409.2 C683.6 410.3 684.6 413 683.9 415.7 C683.3 418 681.7 420 679.9 421.4" fill="none" stroke="#dd3f1a" stroke-width="1.5" stroke-linecap="round"/>
<text class="cj" transform="translate(706.0,419.5) scale(0.914,0.98)" font-size="30.5" font-weight="900" fill="#9d9d9d">中</text>
<text class="cj" transform="translate(735.9,419.5) scale(1.035,0.98)" font-size="30.5" font-weight="900" fill="#9d9d9d">金</text>
<text class="cj" transform="translate(770.4,419.5) scale(0.973,0.98)" font-size="30.5" font-weight="900" fill="#9d9d9d">网</text>
<text x="707.9" y="432.9" font-size="9.7" fill="#8e8e8e" textLength="89" lengthAdjust="spacingAndGlyphs">CNGOLD.COM.CN</text>
<text x="659.6" y="447" font-size="11.5" fill="#9a9a9a" font-weight="300">中</text>
<text x="680.1" y="447" font-size="11.5" fill="#9a9a9a" font-weight="300">文</text>
<text x="700.5" y="447" font-size="11.5" fill="#9a9a9a" font-weight="300">财</text>
<text x="721.0" y="447" font-size="11.5" fill="#9a9a9a" font-weight="300">经</text>
<text x="741.4" y="447" font-size="11.5" fill="#e0e0e0" font-weight="500">新</text>
<text x="761.9" y="447" font-size="11.5" fill="#e0e0e0" font-weight="500">媒</text>
<text x="782.3" y="447" font-size="11.5" fill="#9a9a9a" font-weight="300">体</text>
<path d="M726.7 429.3L739.4 439.9L726.7 451.9L714 439.9Z" fill="#0d0c08"/>
<path d="M714 439.9L726.7 429.3L739.4 439.9L736 439.9L726.7 432.4L717.4 439.9Z" fill="#7d7d7d"/>
<path d="M715.6 439.9L726.7 430.8L737.8 439.9" fill="none" stroke="#dcdcdc" stroke-width="1"/>
<path d="M714 439.9L726.7 451.9L726.7 447.6L718 439.9Z" fill="#d8ba22"/>
<path d="M739.4 439.9L726.7 451.9L726.7 447.6L735.4 439.9Z" fill="#a88a18"/>
<path d="M719.2 440.2L726.7 433.9L734.2 440.2L726.7 446.6Z" fill="none" stroke="#4a3a12" stroke-width="1"/>
<path d="M726.7 435.3L730.5 441.5H722.9Z" fill="none" stroke="#5aa02c" stroke-width="0.8"/>
<text x="721" y="447" font-size="11.5" fill="#c4c4c4" font-weight="400">经</text>
<text x="745.5" y="437.5" font-size="9.5" font-weight="bold" fill="#fff" stroke="#fff" stroke-width="0.4" textLength="57.5" lengthAdjust="spacingAndGlyphs">SINO SOUND</text>
<text x="745.0" y="447.2" font-size="8.4" font-weight="bold" fill="#fff">漢</text>
<text x="761.6" y="447.2" font-size="8.4" font-weight="bold" fill="#fff">聲</text>
<text x="778.2" y="447.2" font-size="8.4" font-weight="bold" fill="#fff">集</text>
<text x="794.8" y="447.2" font-size="8.4" font-weight="bold" fill="#fff">團</text>
</g>
<text class="ax" style="fill:#d4e8ff;stroke:#d4e8ff" x="772.3" y="454.3" textLength="30.5" lengthAdjust="spacingAndGlyphs">-37.983</text>
</svg></body></html>
